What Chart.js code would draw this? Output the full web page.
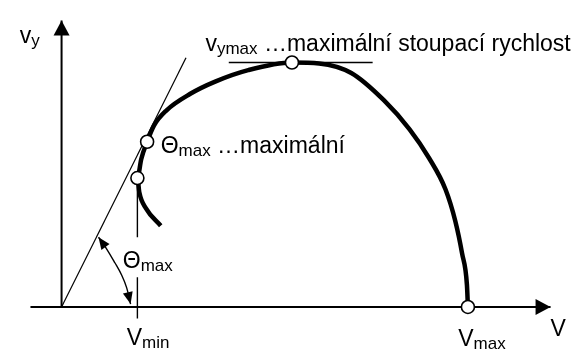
<!DOCTYPE html>
<html>
<head>
<meta charset="utf-8">
<script src="https://cdn.jsdelivr.net/npm/chart.js@4/dist/chart.umd.min.js"></script>
<style>
  html, body { margin: 0; padding: 0; background: #fff; }
  #wrap { width: 581px; height: 358px; }
</style>
</head>
<body>
<div id="wrap"><canvas id="polar" width="581" height="358"></canvas></div>
<script>
// ── Rychlostní polára: stoupací rychlost v_y nad rychlostí V ───────────────
// values in drawing units, origin = where the two axes cross

// thick curve v_y(V): from the lower hook near V_min up over v_ymax to V_max
const curveV  = [102, 87, 80, 78, 82, 88, 95, 108, 132, 158, 192, 237, 265, 298, 332, 358, 378, 395, 405, 412, 417, 418];
const curveVy = [85, 103, 120, 135, 155, 173, 190, 206, 223, 236, 248, 256, 255, 245, 216, 186, 156, 123, 90, 56, 23, 0];

// marked points: V_min, tangent point (Θmax), v_ymax, V_max
const markV  = [78, 88, 237, 418];
const markVy = [135, 173, 256, 0];

// tangent from the origin and horizontal tangent at v_ymax
const tangentV  = [0, 128];
const tangentVy = [0, 261];
const topV  = [172, 320];
const topVy = [256, 256];

// V_min guide, broken where the Θmax label sits
const vminV  = [78, 78, 78, 78, 78];
const vminVy = [135, 73, null, 31, -12];

// angle arrow between tangent and V axis
const arcV  = [38, 45, 55, 62, 67, 71];
const arcVy = [73, 63, 46, 33, 20, 3];

// axes
const axisXV  = [-32, 503];
const axisXVy = [0, 0];
const axisYV  = [0, 0];
const axisYVy = [0, 300];

const pts = (xs, ys) => xs.map((x, i) => ({ x, y: ys[i] }));

// plain black line dataset
const line = (xs, ys, width, extra = {}) => ({
  data: pts(xs, ys),
  showLine: true,
  borderColor: "#000",
  borderWidth: width,
  pointRadius: 0,
  pointHoverRadius: 0,
  spanGaps: false,
  clip: false,
  order: 2,
  ...extra,
});

// ── arrowheads at the ends of flagged datasets ──────────────────────────────
function head(ctx, from, to, len, half) {
  const a = Math.atan2(to.y - from.y, to.x - from.x);
  const bx = to.x - len * Math.cos(a);
  const by = to.y - len * Math.sin(a);
  ctx.beginPath();
  ctx.moveTo(to.x, to.y);
  ctx.lineTo(bx + half * Math.sin(a), by - half * Math.cos(a));
  ctx.lineTo(bx - half * Math.sin(a), by + half * Math.cos(a));
  ctx.closePath();
  ctx.fill();
}

const arrowPlugin = {
  id: "arrows",
  afterDatasetsDraw(chart) {
    const ctx = chart.ctx;
    ctx.save();
    ctx.fillStyle = "#000";
    chart.data.datasets.forEach((ds, i) => {
      if (!ds.arrow) return;
      const p = chart.getDatasetMeta(i).data;
      const n = p.length;
      head(ctx, p[n - 2], p[n - 1], ds.arrow.len, ds.arrow.half);
      if (ds.arrow.both) head(ctx, p[1], p[0], ds.arrow.len, ds.arrow.half);
    });
    ctx.restore();
  },
};

// ── text labels with subscripts ─────────────────────────────────────────────
const labels = [
  { x: -43, y: 276, main: "v", sub: "y" },
  { x: 148, y: 268, main: "v", sub: "ymax", rest: " …maximální stoupací rychlost" },
  { x: 102, y: 161, main: "Θ", sub: "max", rest: " …maximální" },
  { x: 63, y: 41, main: "Θ", sub: "max" },
  { x: 67, y: -40, main: "V", sub: "min" },
  { x: 408, y: -41, main: "V", sub: "max" },
  { x: 503, y: -30, main: "V" },
];

const MAIN_FONT = '23px "Liberation Sans", Arial, sans-serif';
const SUB_FONT = '17px "Liberation Sans", Arial, sans-serif';

const labelPlugin = {
  id: "labels",
  afterDraw(chart) {
    const { ctx, scales } = chart;
    ctx.save();
    ctx.fillStyle = "#000";
    ctx.textBaseline = "alphabetic";
    ctx.textAlign = "left";
    labels.forEach((l) => {
      let px = scales.x.getPixelForValue(l.x);
      const py = scales.y.getPixelForValue(l.y);
      ctx.font = MAIN_FONT;
      ctx.fillText(l.main, px, py);
      px += ctx.measureText(l.main).width;
      if (l.sub) {
        ctx.font = SUB_FONT;
        ctx.fillText(l.sub, px, py + 3);
        px += ctx.measureText(l.sub).width;
      }
      if (l.rest) {
        ctx.font = MAIN_FONT;
        ctx.fillText(l.rest, px, py);
      }
    });
    ctx.restore();
  },
};

// ── chart ───────────────────────────────────────────────────────────────────
new Chart(document.getElementById("polar"), {
  type: "scatter",
  data: {
    datasets: [
      {
        data: pts(markV, markVy),
        pointRadius: 6.5,
        pointHoverRadius: 6.5,
        pointBackgroundColor: "#fff",
        pointBorderColor: "#000",
        pointBorderWidth: 1.6,
        clip: false,
        order: 0,
      },
      line(curveV, curveVy, 4.5, { tension: 0.4, cubicInterpolationMode: "monotone", order: 1 }),
      line(tangentV, tangentVy, 1.2),
      line(topV, topVy, 1.3),
      line(vminV, vminVy, 1.4),
      line(arcV, arcVy, 1.4, { tension: 0.4, arrow: { len: 12, half: 5, both: true } }),
      line(axisXV, axisXVy, 2, { arrow: { len: 15, half: 8 } }),
      line(axisYV, axisYVy, 2, { arrow: { len: 15, half: 8 } }),
    ],
  },
  options: {
    responsive: false,
    animation: false,
    events: [],
    layout: { padding: 0 },
    plugins: {
      legend: { display: false },
      tooltip: { enabled: false },
    },
    scales: {
      x: { type: "linear", min: -55, max: 526, display: false },
      y: { type: "linear", min: -45, max: 313, display: false },
    },
  },
  plugins: [arrowPlugin, labelPlugin],
});
</script>
</body>
</html>
